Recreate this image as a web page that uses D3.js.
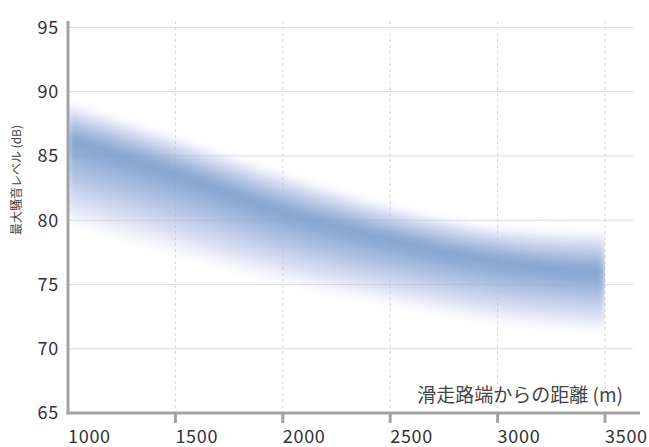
<!DOCTYPE html>
<html>
<head>
<meta charset="utf-8">
<script src="https://cdn.jsdelivr.net/npm/d3@7"></script>
<style>
    html, body { margin: 0; padding: 0; background: #fff; }
    svg { display: block; }
    text { font-family: "Noto Sans CJK JP", "Liberation Sans", sans-serif; }
</style>
</head>
<body>
<script>
(function () {
    "use strict";

    // data
    var distances = [1000, 1500, 2000, 2500, 3000, 3500];
    var levelCenter = [86.3, 83.7, 80.7, 78.5, 76.8, 75.9];
    var levelUpper = [89.3, 86.6, 83.8, 81.3, 79.6, 79.2];
    var levelLower = [79.6, 77.2, 75.0, 73.3, 71.9, 71.2];

    var xTicks = [1000, 1500, 2000, 2500, 3000, 3500];
    var yTicks = [65, 70, 75, 80, 85, 90, 95];

    var xTitle = "滑走路端からの距離 (m)";
    var yTitle = "最大騒音レベル (dB)";

    var width = 649, height = 447;

    var x = d3.scaleLinear().domain([1000, 3500]).range([68, 605]);
    var y = d3.scaleLinear().domain([65, 95.5]).range([413, 21]);

    var svg = d3.select("body").append("svg")
        .attr("width", width)
        .attr("height", height);

    var defs = svg.append("defs");
    defs.append("clipPath")
        .attr("id", "bandClip")
        .append("rect")
        .attr("x", x(1000))
        .attr("y", 0)
        .attr("width", x(3500) - x(1000))
        .attr("height", y(65));
    defs.append("filter")
        .attr("id", "soft")
        .attr("x", "-10%").attr("y", "-30%")
        .attr("width", "120%").attr("height", "160%")
        .append("feGaussianBlur")
        .attr("stdDeviation", 3);

    // horizontal grid
    svg.append("g").selectAll("line")
        .data(yTicks.slice(1))
        .join("line")
        .attr("x1", x(1000)).attr("x2", 633)
        .attr("y1", function (d) { return y(d); })
        .attr("y2", function (d) { return y(d); })
        .attr("stroke", "#dcdcdc")
        .attr("stroke-width", 1);

    // vertical dashed grid
    svg.append("g").selectAll("line")
        .data(xTicks.slice(1))
        .join("line")
        .attr("x1", function (d) { return x(d); })
        .attr("x2", function (d) { return x(d); })
        .attr("y1", y(95.5)).attr("y2", y(65))
        .attr("stroke", "#d6d6d6")
        .attr("stroke-width", 1)
        .attr("stroke-dasharray", "3,3");

    // the band: stacked translucent layers, denser towards the centre
    var rows = distances.map(function (d, i) {
        return {d: d, c: levelCenter[i], u: levelUpper[i], l: levelLower[i]};
    });
    var n = 40;
    var spreads = d3.range(n).map(function (k) { return 1 - Math.pow(k / n, 0.8); });
    var tint = d3.interpolateRgb("#c6cbf0", "#6690c2");

    var band = svg.append("g")
        .attr("clip-path", "url(#bandClip)")
        .append("g")
        .attr("filter", "url(#soft)");

    band.selectAll("path")
        .data(spreads)
        .join("path")
        .attr("fill", function (s) { return tint(1 - s); })
        .attr("fill-opacity", 0.075)
        .attr("d", function (s) {
            return d3.area()
                .curve(d3.curveMonotoneX)
                .x(function (r) { return x(r.d); })
                .y0(function (r) { return y(r.c - (r.c - r.l) * s); })
                .y1(function (r) { return y(r.c + (r.u - r.c) * s); })(rows);
        });

    // axes
    svg.append("line")
        .attr("x1", x(1000)).attr("x2", x(1000))
        .attr("y1", y(95.5)).attr("y2", y(65) + 1.5)
        .attr("stroke", "#a3a3a3")
        .attr("stroke-width", 3);

    svg.append("line")
        .attr("x1", x(1000) - 1.5).attr("x2", 640)
        .attr("y1", y(65)).attr("y2", y(65))
        .attr("stroke", "#a3a3a3")
        .attr("stroke-width", 3);

    svg.append("g").selectAll("line")
        .data(xTicks.slice(1))
        .join("line")
        .attr("x1", function (d) { return x(d); })
        .attr("x2", function (d) { return x(d); })
        .attr("y1", y(65)).attr("y2", y(65) + 10)
        .attr("stroke", "#a3a3a3")
        .attr("stroke-width", 3);

    // tick labels
    svg.append("g").selectAll("text")
        .data(xTicks)
        .join("text")
        .attr("x", function (d) { return x(d); })
        .attr("y", 443)
        .attr("font-size", 18)
        .attr("letter-spacing", 0.7)
        .attr("fill", "#333")
        .text(function (d) { return d; });

    svg.append("g").selectAll("text")
        .data(yTicks)
        .join("text")
        .attr("x", 59)
        .attr("y", function (d) { return y(d); })
        .attr("dy", "0.36em")
        .attr("text-anchor", "end")
        .attr("font-size", 18)
        .attr("letter-spacing", 0.7)
        .attr("fill", "#333")
        .text(function (d) { return d; });

    // titles
    svg.append("text")
        .attr("x", 623)
        .attr("y", 402)
        .attr("text-anchor", "end")
        .attr("font-size", 19)
        .attr("fill", "#444")
        .text(xTitle);

    svg.append("text")
        .attr("transform", "translate(21,180) rotate(-90)")
        .attr("text-anchor", "middle")
        .attr("font-size", 12)
        .attr("fill", "#444")
        .text(yTitle);
})();
</script>
</body>
</html>
